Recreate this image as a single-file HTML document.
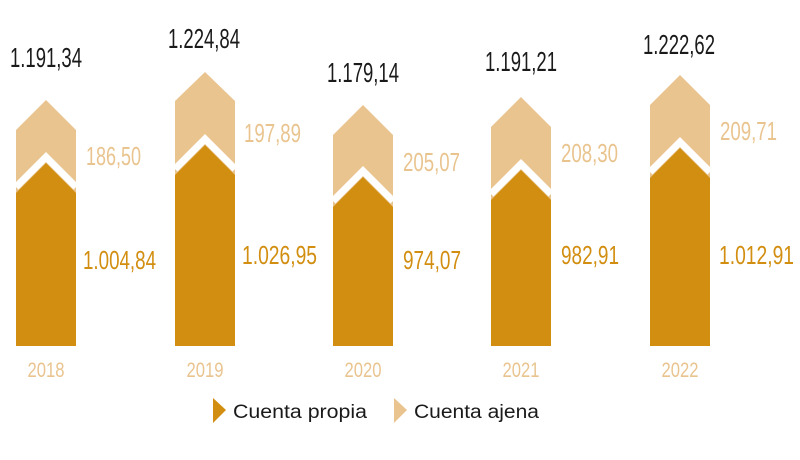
<!DOCTYPE html>
<html><head><meta charset="utf-8"><style>body{margin:0;background:#fff}</style></head><body>
<svg width="800" height="455" xmlns="http://www.w3.org/2000/svg" font-family="Liberation Sans, sans-serif">
<g>
<polygon points="16,130 46,100 76,130 76,346 16,346" fill="#e9c48f"/>
<polygon points="16,193 46,163 76,193 76,346 16,346" fill="#d28e10"/>
<polyline points="16,187 46,157 76,187" fill="none" stroke="#fff" stroke-width="7"/>
<polygon points="175,101 205,72 235,101 235,346 175,346" fill="#e9c48f"/>
<polygon points="175,175 205,145 235,175 235,346 175,346" fill="#d28e10"/>
<polyline points="175,169 205,139 235,169" fill="none" stroke="#fff" stroke-width="7"/>
<polygon points="333,135 363,105 393,135 393,346 333,346" fill="#e9c48f"/>
<polygon points="333,207 363,177 393,207 393,346 333,346" fill="#d28e10"/>
<polyline points="333,201 363,171 393,201" fill="none" stroke="#fff" stroke-width="7"/>
<polygon points="491,127 521,97 551,127 551,346 491,346" fill="#e9c48f"/>
<polygon points="491,200 521,170 551,200 551,346 491,346" fill="#d28e10"/>
<polyline points="491,194 521,164 551,194" fill="none" stroke="#fff" stroke-width="7"/>
<polygon points="650,105 680,75 710,105 710,346 650,346" fill="#e9c48f"/>
<polygon points="650,178 680,148 710,178 710,346 650,346" fill="#d28e10"/>
<polyline points="650,172 680,142 710,172" fill="none" stroke="#fff" stroke-width="7"/>
</g>
<g font-size="28" fill="#1a1a1a">
<text x="10" y="67" textLength="72" lengthAdjust="spacingAndGlyphs">1.191,34</text>
<text x="168" y="48" textLength="72" lengthAdjust="spacingAndGlyphs">1.224,84</text>
<text x="327" y="82" textLength="72" lengthAdjust="spacingAndGlyphs">1.179,14</text>
<text x="485" y="71" textLength="72" lengthAdjust="spacingAndGlyphs">1.191,21</text>
<text x="643" y="54" textLength="72" lengthAdjust="spacingAndGlyphs">1.222,62</text>
</g>
<g font-size="26" fill="#e9c48f">
<text x="86" y="165" textLength="55" lengthAdjust="spacingAndGlyphs">186,50</text>
<text x="244" y="142" textLength="57" lengthAdjust="spacingAndGlyphs">197,89</text>
<text x="403" y="171" textLength="57" lengthAdjust="spacingAndGlyphs">205,07</text>
<text x="561" y="162" textLength="57" lengthAdjust="spacingAndGlyphs">208,30</text>
<text x="720" y="140" textLength="57" lengthAdjust="spacingAndGlyphs">209,71</text>
</g>
<g font-size="26" fill="#d28e10">
<text x="83" y="269" textLength="73" lengthAdjust="spacingAndGlyphs">1.004,84</text>
<text x="242" y="264" textLength="75" lengthAdjust="spacingAndGlyphs">1.026,95</text>
<text x="403" y="269" textLength="58" lengthAdjust="spacingAndGlyphs">974,07</text>
<text x="561" y="264" textLength="58" lengthAdjust="spacingAndGlyphs">982,91</text>
<text x="719" y="264" textLength="75" lengthAdjust="spacingAndGlyphs">1.012,91</text>
</g>
<g font-size="21" fill="#e9c48f" text-anchor="middle">
<text x="46" y="377" textLength="37" lengthAdjust="spacingAndGlyphs">2018</text>
<text x="205" y="377" textLength="37" lengthAdjust="spacingAndGlyphs">2019</text>
<text x="363" y="377" textLength="37" lengthAdjust="spacingAndGlyphs">2020</text>
<text x="521" y="377" textLength="37" lengthAdjust="spacingAndGlyphs">2021</text>
<text x="680" y="377" textLength="37" lengthAdjust="spacingAndGlyphs">2022</text>
</g>
<polygon points="213,398 226,410 213,423" fill="#d28e10"/>
<text x="233" y="418" font-size="19" fill="#1a1a1a" textLength="134" lengthAdjust="spacingAndGlyphs">Cuenta propia</text>
<polygon points="394,398 407,410 394,423" fill="#e9c48f"/>
<text x="414" y="418" font-size="19" fill="#1a1a1a" textLength="125" lengthAdjust="spacingAndGlyphs">Cuenta ajena</text>
</svg>
</body></html>
